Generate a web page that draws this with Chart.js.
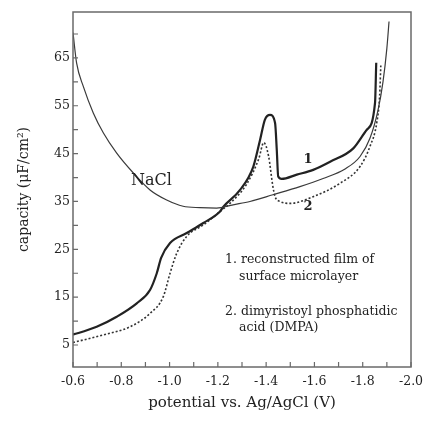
<!DOCTYPE html>
<html>
<head>
<meta charset="utf-8">
<script src="https://cdn.jsdelivr.net/npm/chart.js@4.4.1/dist/chart.umd.min.js"></script>
<style>
    html, body { margin: 0; padding: 0; background: #fff; }
    #wrap { width: 424px; height: 421px; }
</style>
</head>
<body>
<div id="wrap"><canvas id="capChart"></canvas></div>
<script>
// potential (V) and capacity (uF/cm2)
const naclV = [-0.6, -0.615, -0.643, -0.684, -0.726, -0.781, -0.849, -0.919, -0.988, -1.056, -1.126, -1.195, -1.263, -1.333, -1.428, -1.54, -1.636, -1.727, -1.789, -1.83, -1.863, -1.884, -1.9, -1.909];
const naclC = [70.3, 63.9, 59.0, 53.5, 49.3, 45.1, 41.0, 37.4, 35.3, 34.0, 33.7, 33.6, 34.3, 35.0, 36.4, 38.1, 39.8, 41.8, 44.4, 48.2, 54.0, 60.0, 67.0, 72.6];

const filmV = [-0.6, -0.615, -0.698, -0.781, -0.864, -0.919, -0.947, -0.965, -1.002, -1.071, -1.14, -1.209, -1.223, -1.292, -1.347, -1.375, -1.395, -1.416, -1.437, -1.444, -1.45, -1.464, -1.527, -1.595, -1.665, -1.761, -1.817, -1.851, -1.856];
const filmC = [7.2, 7.4, 8.8, 10.9, 13.7, 16.5, 20.0, 23.2, 26.3, 28.4, 30.5, 32.9, 33.9, 37.4, 42.3, 47.9, 52.1, 53.1, 51.4, 45.8, 40.2, 39.7, 40.6, 41.6, 43.3, 46.1, 50.0, 55.6, 64.0];

const dmpaV = [-0.6, -0.615, -0.726, -0.836, -0.919, -0.974, -1.002, -1.03, -1.071, -1.14, -1.209, -1.25, -1.319, -1.37, -1.39, -1.41, -1.428, -1.437, -1.458, -1.499, -1.595, -1.706, -1.789, -1.83, -1.858, -1.87, -1.875];
const dmpaC = [5.5, 5.7, 7.1, 8.8, 11.6, 15.1, 20.0, 24.2, 27.7, 30.1, 32.9, 34.6, 38.6, 44.0, 47.3, 44.5, 38.1, 36.0, 35.0, 34.6, 36.0, 38.8, 42.3, 46.5, 51.4, 57.0, 63.5];

const xTicks = [-0.6, -0.7, -0.8, -0.9, -1.0, -1.1, -1.2, -1.3, -1.4, -1.5, -1.6, -1.7, -1.8, -1.9, -2.0];
const yTicks = [5, 10, 15, 20, 25, 30, 35, 40, 45, 50, 55, 60, 65, 70];
const yLabels = [5, 15, 25, 35, 45, 55, 65];

const serif = '"DejaVu Serif", "Liberation Serif", serif';
const ink = '#222';

function pairs(xs, ys) {
    return xs.map((x, i) => ({ x: x, y: ys[i] }));
}

// frame, inward tick marks and the in-plot text
const framePlugin = {
    id: 'frame',
    afterDraw(chart) {
        const ctx = chart.ctx;
        const a = chart.chartArea;
        const xs = chart.scales.x;
        const ys = chart.scales.y;
        ctx.save();
        ctx.strokeStyle = '#6a6a6a';
        ctx.lineWidth = 1.5;
        ctx.strokeRect(a.left, a.top, a.right - a.left, a.bottom - a.top);

        ctx.lineWidth = 1.2;
        ctx.beginPath();
        xTicks.forEach(v => {
            const px = xs.getPixelForValue(v);
            ctx.moveTo(px, a.bottom);
            ctx.lineTo(px, a.bottom - 5);
        });
        yTicks.forEach(v => {
            const py = ys.getPixelForValue(v);
            ctx.moveTo(a.left, py);
            ctx.lineTo(a.left + 5, py);
        });
        ctx.stroke();

        const put = (txt, v, c, size, weight) => {
            ctx.font = (weight || '') + ' ' + size + 'px ' + serif;
            ctx.fillText(txt, xs.getPixelForValue(v), ys.getPixelForValue(c));
        };
        ctx.fillStyle = ink;
        ctx.textBaseline = 'middle';
        ctx.textAlign = 'center';
        put('NaCl', -0.925, 39.3, 16);
        put('1', -1.573, 43.7, 13, 'bold');
        put('2', -1.573, 33.9, 13, 'bold');
        ctx.textAlign = 'left';
        put('1. reconstructed film of', -1.23, 22.8, 12.5);
        put('surface microlayer', -1.288, 19.2, 12.5);
        put('2. dimyristoyl phosphatidic', -1.23, 11.9, 12.5);
        put('acid (DMPA)', -1.288, 8.6, 12.5);
        ctx.restore();
    }
};

const ctx = document.getElementById('capChart');
new Chart(ctx, {
    type: 'line',
    data: {
        datasets: [
            {
                label: 'NaCl',
                data: pairs(naclV, naclC),
                borderColor: '#3a3a3a',
                borderWidth: 1.2,
                pointRadius: 0,
                cubicInterpolationMode: 'monotone'
            },
            {
                label: '1',
                data: pairs(filmV, filmC),
                borderColor: '#222',
                borderWidth: 2.2,
                pointRadius: 0,
                cubicInterpolationMode: 'monotone'
            },
            {
                label: '2',
                data: pairs(dmpaV, dmpaC),
                borderColor: '#333',
                borderWidth: 1.6,
                borderDash: [2, 2],
                pointRadius: 0,
                cubicInterpolationMode: 'monotone'
            }
        ]
    },
    options: {
        responsive: true,
        maintainAspectRatio: false,
        animation: false,
        layout: {
            padding: { top: 12, right: 13, left: 0, bottom: 0 }
        },
        plugins: {
            legend: { display: false },
            tooltip: { enabled: false }
        },
        scales: {
            x: {
                type: 'linear',
                min: -2.0,
                max: -0.6,
                reverse: true,
                afterBuildTicks: scale => {
                    scale.ticks = xTicks.map(v => ({ value: v }));
                },
                afterFit: scale => {
                    scale.height = 54;
                    scale.paddingLeft = 0;
                    scale.paddingRight = 0;
                },
                grid: { display: false, drawTicks: false },
                border: { display: false },
                ticks: {
                    autoSkip: false,
                    maxRotation: 0,
                    padding: 7,
                    color: ink,
                    font: { family: serif, size: 12.5 },
                    callback: (v, i) => (i % 2 === 0 ? v.toFixed(1) : '')
                },
                title: {
                    display: true,
                    text: 'potential vs. Ag/AgCl (V)',
                    color: ink,
                    font: { family: serif, size: 15 },
                    padding: { top: 0, bottom: 9 }
                }
            },
            y: {
                type: 'linear',
                min: 0.4,
                max: 74.6,
                afterBuildTicks: scale => {
                    scale.ticks = yTicks.map(v => ({ value: v }));
                },
                afterFit: scale => { scale.width = 73; },
                grid: { display: false, drawTicks: false },
                border: { display: false },
                ticks: {
                    autoSkip: false,
                    padding: 3,
                    color: ink,
                    font: { family: serif, size: 12.5 },
                    callback: v => (yLabels.includes(v) ? String(v) : '')
                },
                title: {
                    display: true,
                    text: 'capacity (μF/cm²)',
                    color: ink,
                    font: { family: serif, size: 14 },
                    padding: { top: 16, bottom: 0 }
                }
            }
        }
    },
    plugins: [framePlugin]
});
</script>
</body>
</html>
